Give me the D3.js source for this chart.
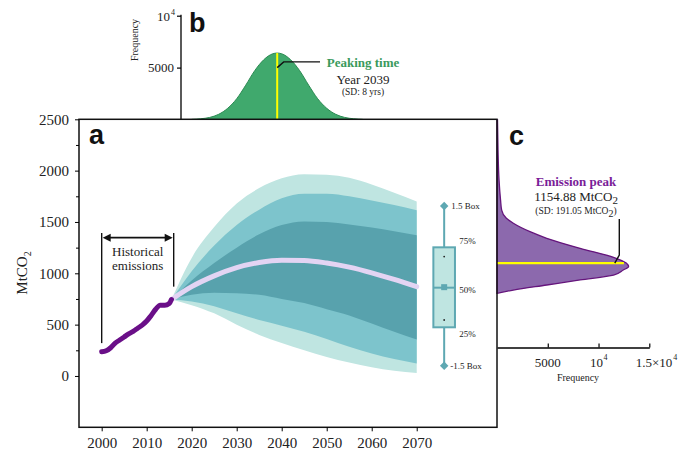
<!DOCTYPE html>
<html>
<head>
<meta charset="utf-8">
<script src="https://cdn.jsdelivr.net/npm/d3@7"></script>
<style>
  body { margin: 0; background: #fff; }
  svg text { font-family: "Liberation Serif", "Times New Roman", serif; fill: #222; }
  .panel-letter { font-family: "Liberation Sans", Arial, sans-serif; font-weight: bold; fill: #111; }
</style>
</head>
<body>
<svg id="chart" width="678" height="456"></svg>
<script>
// historical emissions (MtCO2)
const histYears  = [2000, 2001, 2002, 2003, 2004, 2005, 2006, 2007, 2008, 2009, 2010, 2011, 2012, 2013, 2014, 2015, 2015.5];
const histValues = [235, 245, 275, 320, 350, 380, 410, 435, 465, 495, 535, 590, 650, 690, 688, 705, 745];

// projection bands
const projYears  = [2015.5, 2020, 2025, 2030, 2035, 2040, 2045, 2050, 2055, 2060, 2065, 2070];
const median     = [745, 870, 975, 1055, 1105, 1128, 1125, 1100, 1060, 1005, 940, 870];
const innerHigh  = [745, 930, 1100, 1250, 1380, 1470, 1505, 1500, 1475, 1445, 1410, 1370];
const innerLow   = [745, 790, 810, 805, 790, 750, 710, 650, 590, 510, 430, 355];
const midHigh    = [745, 1020, 1270, 1470, 1620, 1730, 1775, 1775, 1750, 1710, 1665, 1615];
const midLow     = [745, 725, 680, 610, 545, 490, 430, 360, 285, 220, 165, 122];
const outerHigh  = [745, 1150, 1450, 1680, 1830, 1925, 1965, 1960, 1930, 1865, 1785, 1700];
const outerLow   = [745, 690, 610, 500, 400, 320, 250, 185, 130, 85, 50, 28];

// box plot of 2070 values
const boxYear = 2076.1;
const boxStats = [100, 474, 860, 1253, 1655];   // -1.5 box, 25%, 50%, 75%, 1.5 box
const boxDots = [545, 1163];
const boxLabels = ["-1.5 Box", "25%", "50%", "75%", "1.5 Box"];

// panel a ticks
const xTicks = [2000, 2010, 2020, 2030, 2040, 2050, 2060, 2070];
const yTicks = [0, 500, 1000, 1500, 2000, 2500];
const yMinor = [250, 750, 1250, 1750, 2250];

// peaking time distribution (panel b)
const peakYears = [2020, 2022, 2024, 2026, 2028, 2030, 2032, 2034, 2036, 2038, 2039, 2040, 2042, 2044, 2046, 2048, 2050, 2052, 2054, 2056, 2058];
const peakFreq  = [15, 70, 200, 500, 1080, 2000, 3300, 4700, 5750, 6330, 6400, 6330, 5750, 4700, 3300, 2000, 1080, 500, 200, 70, 15];
const peakYear = 2039;

// emission peak distribution (panel c)
const emisValues = [805, 837, 886, 935, 983, 1032, 1064, 1100, 1156, 1243, 1341, 1405, 1487, 1538, 1616, 1714, 1908, 2200, 2493];
const emisFreq   = [0, 1610, 4900, 8190, 11480, 12440, 12960, 12730, 11480, 8190, 4900, 3250, 1610, 900, 460, 350, 200, 100, 50];
const emisMode = 1100;

const svg = d3.select("#chart");

const mLeft = 79, mRight = 497, mTop = 119.3, mBottom = 427.3;
const x = d3.scaleLinear().domain([1994.96, 2087.84]).range([mLeft, mRight]);
const y = d3.scaleLinear().domain([-500, 2500]).range([mBottom, mTop]);
const yb = d3.scaleLinear().domain([0, 10000]).range([119.5, 15.7]);
const xc = d3.scaleLinear().domain([0, 15000]).range([497, 649.3]);

const colors = {
  outer: "#bfe5e1", mid: "#7dc4cc", inner: "#58a2ad",
  hist: "#6a0f88", median: "#e3d4f3",
  green: "#40a96d", greenDark: "#2b8a52", greenText: "#3a9a5c",
  purpleFill: "#8c69ad", purpleLine: "#65157c", purpleText: "#7a1d98",
  box: "#5ea8b2", boxFill: "#bfe5e1"
};

// ---------- panel b (peaking time) ----------
const peakData = peakYears.map((yr, i) => ({ yr, f: peakFreq[i] }));
svg.append("path")
  .datum(peakData)
  .attr("fill", colors.green)
  .attr("d", d3.area().x(d => x(d.yr)).y0(yb(0)).y1(d => yb(d.f)).curve(d3.curveMonotoneX));
svg.append("path")
  .datum(peakData)
  .attr("fill", "none")
  .attr("stroke", colors.greenDark)
  .attr("stroke-width", 1)
  .attr("d", d3.line().x(d => x(d.yr)).y(d => yb(d.f)).curve(d3.curveMonotoneX));
svg.append("line")
  .attr("x1", x(peakYear)).attr("x2", x(peakYear))
  .attr("y1", yb(0)).attr("y2", yb(6400))
  .attr("stroke", "#ffff00").attr("stroke-width", 2);

const axB = svg.append("g")
  .attr("transform", `translate(181,0)`)
  .call(d3.axisLeft(yb).tickValues([5000, 10000]).tickSize(4).tickFormat(""));
axB.select(".domain").attr("d", `M0,${yb(10000) - 1}V${yb(0)}`).attr("stroke-width", 1.3);
axB.selectAll(".tick line").attr("stroke-width", 1.2);
svg.append("text").attr("x", 174).attr("y", yb(5000) + 4.5).attr("text-anchor", "end")
  .attr("font-size", 13).text("5000");
svg.append("text").attr("x", 170).attr("y", yb(10000) + 5).attr("text-anchor", "end").attr("font-size", 13).text("10");
svg.append("text").attr("x", 171).attr("y", yb(10000) - 1).attr("font-size", 8).text("4");
svg.append("text")
  .attr("transform", `translate(138,40) rotate(-90)`)
  .attr("text-anchor", "middle").attr("font-size", 10).text("Frequency");
svg.append("text").attr("class", "panel-letter").attr("x", 189).attr("y", 32).attr("font-size", 27).text("b");

// leader + label b
svg.append("path")
  .attr("d", `M${x(peakYear)},${yb(5000)}L${x(peakYear) + 6.5},${yb(5550)}H320`)
  .attr("fill", "none").attr("stroke", "#111").attr("stroke-width", 1.4);
svg.append("text").attr("x", 363).attr("y", 67).attr("text-anchor", "middle")
  .attr("font-size", 13).attr("font-weight", "bold").style("fill", colors.greenText).text("Peaking time");
svg.append("text").attr("x", 363).attr("y", 84).attr("text-anchor", "middle")
  .attr("font-size", 13).text("Year 2039");
svg.append("text").attr("x", 363).attr("y", 95).attr("text-anchor", "middle")
  .attr("font-size", 9.5).text("(SD: 8 yrs)");

// ---------- panel c (emission peak) ----------
const emisData = emisValues.map((v, i) => ({ v, f: emisFreq[i] }));
svg.append("path")
  .datum(emisData)
  .attr("fill", colors.purpleFill)
  .attr("stroke", colors.purpleLine)
  .attr("stroke-width", 1.3)
  .attr("d", d3.area().y(d => y(d.v)).x0(xc(0)).x1(d => xc(d.f)).curve(d3.curveMonotoneY));
svg.append("line")
  .attr("x1", xc(0)).attr("x2", xc(12500))
  .attr("y1", y(emisMode)).attr("y2", y(emisMode))
  .attr("stroke", "#ffff00").attr("stroke-width", 2.2);

const axC = svg.append("g")
  .attr("transform", `translate(0,347.5)`)
  .call(d3.axisBottom(xc).tickValues([5000, 10000, 15000]).tickSizeInner(-4).tickSizeOuter(0).tickFormat(""));
axC.select(".domain").attr("stroke-width", 1.3);
axC.selectAll(".tick line").attr("stroke-width", 1.2);
svg.append("text").attr("x", xc(5000)).attr("y", 367).attr("text-anchor", "middle").attr("font-size", 13).text("5000");
svg.append("text").attr("x", xc(10000) - 2).attr("y", 367).attr("text-anchor", "middle").attr("font-size", 13).text("10");
svg.append("text").attr("x", xc(10000) + 5).attr("y", 360).attr("font-size", 8).text("4");
svg.append("text").attr("x", xc(15000) + 23).attr("y", 367).attr("text-anchor", "end").attr("font-size", 13).text("1.5×10");
svg.append("text").attr("x", xc(15000) + 24).attr("y", 360).attr("font-size", 8).text("4");
svg.append("text").attr("x", 578).attr("y", 381).attr("text-anchor", "middle").attr("font-size", 10).text("Frequency");
svg.append("text").attr("class", "panel-letter").attr("x", 509).attr("y", 145).attr("font-size", 27).text("c");

svg.append("path")
  .attr("d", `M619.3,219V${y(emisMode) - 8}L${xc(11600)},${y(emisMode)}`)
  .attr("fill", "none").attr("stroke", "#111").attr("stroke-width", 1.4);
svg.append("text").attr("x", 576).attr("y", 186).attr("text-anchor", "middle")
  .attr("font-size", 13).attr("font-weight", "bold").style("fill", colors.purpleText).text("Emission peak");
const tc1 = svg.append("text").attr("x", 576).attr("y", 201).attr("text-anchor", "middle").attr("font-size", 13);
tc1.append("tspan").text("1154.88 MtCO");
tc1.append("tspan").attr("dy", 3).attr("font-size", 11).text("2");
const tc2 = svg.append("text").attr("x", 576).attr("y", 214).attr("text-anchor", "middle").attr("font-size", 9.5);
tc2.append("tspan").text("(SD: 191.05 MtCO");
tc2.append("tspan").attr("dy", 3).attr("font-size", 10).text("2");
tc2.append("tspan").attr("dy", -3).text(")");

// ---------- panel a ----------
svg.append("rect")
  .attr("x", mLeft).attr("y", mTop).attr("width", mRight - mLeft).attr("height", mBottom - mTop)
  .attr("fill", "none").attr("stroke", "#111").attr("stroke-width", 1.5);

const projData = projYears.map((yr, i) => ({
  yr, med: median[i], iL: innerLow[i], iH: innerHigh[i], mL: midLow[i], mH: midHigh[i], oL: outerLow[i], oH: outerHigh[i]
}));
const band = (lo, hi) => d3.area().x(d => x(d.yr)).y0(d => y(d[lo])).y1(d => y(d[hi])).curve(d3.curveMonotoneX);
svg.append("path").datum(projData).attr("fill", colors.outer).attr("d", band("oL", "oH"));
svg.append("path").datum(projData).attr("fill", colors.mid).attr("d", band("mL", "mH"));
svg.append("path").datum(projData).attr("fill", colors.inner).attr("d", band("iL", "iH"));
svg.append("path").datum(projData)
  .attr("fill", "none").attr("stroke", colors.median).attr("stroke-width", 5).attr("stroke-linecap", "round")
  .attr("d", d3.line().x(d => x(d.yr)).y(d => y(d.med)).curve(d3.curveMonotoneX));

const histData = histYears.map((yr, i) => ({ yr, v: histValues[i] }));
svg.append("path").datum(histData)
  .attr("fill", "none").attr("stroke", colors.hist).attr("stroke-width", 5)
  .attr("stroke-linecap", "round").attr("stroke-linejoin", "round")
  .attr("d", d3.line().x(d => x(d.yr)).y(d => y(d.v)).curve(d3.curveMonotoneX));

// historical bracket
const hb = svg.append("g").attr("stroke", "#111").attr("stroke-width", 1.4);
hb.append("line").attr("x1", x(2000)).attr("x2", x(2000)).attr("y1", 233).attr("y2", y(320));
hb.append("line").attr("x1", x(2016)).attr("x2", x(2016)).attr("y1", 233).attr("y2", y(870));
hb.append("line").attr("x1", x(2000) + 6).attr("x2", x(2016) - 6).attr("y1", 237.7).attr("y2", 237.7).attr("stroke-width", 1.8);
svg.append("path").attr("fill", "#111")
  .attr("d", `M${x(2000) + 1},237.7l8,-4v8z M${x(2016) - 1},237.7l-8,-4v8z`);
svg.append("text").attr("x", (x(2000) + x(2016)) / 2).attr("y", 256).attr("text-anchor", "middle")
  .attr("font-size", 13).text("Historical");
svg.append("text").attr("x", (x(2000) + x(2016)) / 2).attr("y", 270).attr("text-anchor", "middle")
  .attr("font-size", 13).text("emissions");

// box plot
const bx = x(boxYear), bw = 21.6;
const bp = svg.append("g");
bp.append("line").attr("x1", bx).attr("x2", bx).attr("y1", y(boxStats[0])).attr("y2", y(boxStats[4]))
  .attr("stroke", colors.box).attr("stroke-width", 2);
bp.append("rect").attr("x", bx - bw / 2).attr("y", y(boxStats[3])).attr("width", bw)
  .attr("height", y(boxStats[1]) - y(boxStats[3]))
  .attr("fill", colors.boxFill).attr("stroke", colors.box).attr("stroke-width", 2);
bp.append("line").attr("x1", bx - bw / 2).attr("x2", bx + bw / 2).attr("y1", y(boxStats[2])).attr("y2", y(boxStats[2]))
  .attr("stroke", colors.box).attr("stroke-width", 2);
bp.append("rect").attr("x", bx - 3).attr("y", y(boxStats[2]) - 3.5).attr("width", 6).attr("height", 6)
  .attr("fill", colors.box);
bp.selectAll(".dia").data([boxStats[0], boxStats[4]]).enter().append("rect")
  .attr("x", -3).attr("y", -3).attr("width", 6).attr("height", 6)
  .attr("transform", d => `translate(${bx},${y(d)}) rotate(45)`)
  .attr("fill", colors.box);
bp.selectAll(".dot").data(boxDots).enter().append("circle")
  .attr("cx", bx).attr("cy", d => y(d)).attr("r", 0.9).attr("fill", "#222");
const lblX = [bx + 6, bx + 15, bx + 15, bx + 15, bx + 7];
const lblDy = [3, 10, 5, -3, 3];
bp.selectAll(".bl").data(boxStats).enter().append("text")
  .attr("x", (d, i) => lblX[i])
  .attr("y", (d, i) => y(d) + lblDy[i])
  .attr("font-size", 9).text((d, i) => boxLabels[i]);

// axes of panel a
const axX = svg.append("g").attr("transform", `translate(0,${mBottom})`)
  .call(d3.axisBottom(x).tickValues(xTicks).tickSize(4).tickPadding(6).tickFormat(d3.format("d")));
axX.select(".domain").remove();
axX.selectAll("text").attr("font-size", 15).style("font-family", "Liberation Serif");

const axY = svg.append("g").attr("transform", `translate(${mLeft},0)`)
  .call(d3.axisLeft(y).tickValues(yTicks).tickSize(4).tickPadding(6).tickFormat(d3.format("d")));
axY.select(".domain").remove();
axY.selectAll("text").attr("font-size", 15).style("font-family", "Liberation Serif");
svg.append("g").attr("transform", `translate(${mLeft},0)`)
  .call(d3.axisLeft(y).tickValues(yMinor).tickSize(3).tickFormat(""))
  .select(".domain").remove();

const ml = svg.append("text").attr("transform", `translate(27,273) rotate(-90)`)
  .attr("text-anchor", "middle").attr("font-size", 15);
ml.append("tspan").text("MtCO");
ml.append("tspan").attr("dy", 4).attr("font-size", 10).text("2");

svg.append("text").attr("class", "panel-letter").attr("x", 89).attr("y", 144).attr("font-size", 27).text("a");
</script>
</body>
</html>
